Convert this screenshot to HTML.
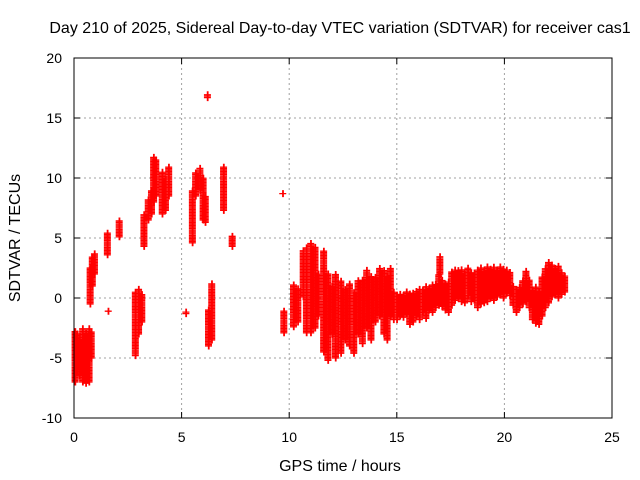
<!DOCTYPE html>
<html><head><meta charset="utf-8"><style>
body{margin:0;background:#fff;}
svg{display:block;font-family:"Liberation Sans",sans-serif;}
</style></head><body>
<svg id="c" width="640" height="480"></svg>
<script>
const xTicks=[0,5,10,15,20,25];
const yTicks=[-10,-5,0,5,10,15,20];
// clusters: [time hours, low value, high value]
const clusters=[
[0.05,-7,-2.7],[0.15,-6,-3],[0.25,-6.5,-3.5],[0.4,-7,-2.5],[0.55,-7.1,-3],[0.7,-7,-2.5],[0.8,-5,-2.8],
[0.75,-0.5,2.5],[0.85,1,3.5],[0.95,2,3.7],[1.55,3.6,5.5],[1.59,-1.1,-1.1],[2.1,5.1,6.5],
[2.85,-4.8,0.5],[3.0,-3,0.8],[3.15,-2,0.3],[3.25,4.3,7],[3.45,6.5,8.2],[3.6,7,9],
[3.7,8,11.8],[3.8,8.5,11.5],[4.1,7,10.5],[4.25,7.3,10],[4.4,8.5,11],
[5.2,-1.3,-1.1],[5.5,4.6,9],[5.65,8.5,10.5],[5.85,9,10.8],[6.0,6.5,10],[6.1,6.3,8.5],
[6.25,-4,-1],[6.4,-3.5,1.2],[6.2,16.7,17],[6.95,7.3,11],[7.35,4.3,5.2],
[9.7,8.7,8.7],[9.75,-2.9,-1],[10.2,-2.4,1.1],[10.4,-2,0.8],[10.65,0.1,4],[10.8,-2.9,4.2],
[11.0,-2.9,4.6],[11.2,-2.5,4.3],[11.35,-1.5,2],[11.6,-4.5,4],[11.8,-5.2,2],[12.0,-3,1],[12.15,-5,2],
[12.4,-4.6,1.5],[12.6,-3.5,0.8],[12.8,-4,1.2],[13.0,-4.6,0.5],[13.2,-3,1.5],
[13.4,-3.8,1.5],[13.6,-2.5,2.3],[13.8,-3.5,1.8],[14.0,-2,1.8],[14.2,-1.5,2.5],
[14.4,-3,2.3],[14.55,-3.5,1.8],[14.7,-1.5,2.5],[14.85,-1.8,0.5],[15.0,-1.8,0.3],[15.15,-1.5,0.4],
[15.3,-1.6,0.2],[15.45,-1.3,0.5],[15.6,-2.2,0.4],[15.75,-2.0,0.5],[15.9,-1.5,0.6],[16.05,-1.8,0.8],
[16.2,-1.2,0.7],[16.35,-1.7,1.0],[16.5,-1.0,0.8],[16.65,-1.2,1.1],[16.8,-0.8,1.2],[16.95,-0.6,2.0],
[17.0,2,3.5],[17.1,-0.7,1.5],[17.25,-1.0,1.2],[17.4,-1.2,1.4],[17.55,-0.6,2.2],[17.7,-0.2,2.4],
[17.85,0.0,2.3],[18.0,-0.3,2.4],[18.15,-0.4,2.0],[18.3,0.2,2.5],[18.45,-0.3,2.2],[18.6,-0.2,2.1],
[18.75,-0.8,2.4],[18.9,-0.5,2.5],[19.05,-0.4,2.3],[19.2,-0.3,2.6],[19.35,0.0,2.4],[19.5,-0.2,2.6],
[19.65,0.1,2.3],[19.8,0.3,2.6],[19.95,0.0,2.5],[20.1,0.4,2.4],[20.25,0.2,2.2],[20.4,-0.6,1.0],
[20.55,-1.2,0.8],[20.7,-0.8,0.9],[20.85,-0.5,1.5],[21.0,-0.3,2.3],[21.15,-0.8,1.5],[21.3,-1.8,0.6],
[21.45,-2.1,0.9],[21.6,-2.2,0.5],[21.75,-1.5,1.8],[21.9,-0.8,2.5],[22.05,-0.4,3.0],[22.2,0.1,2.8],
[22.35,0.3,2.5],[22.5,0.0,2.7],[22.65,0.3,2.2],[22.8,0.5,1.9]
];
const L=74,R=612,T=58,B=418,x0=0,x1=25,y0=-10,y1=20;
const sx=v=>L+(v-x0)/(x1-x0)*(R-L);
const sy=v=>B-(v-y0)/(y1-y0)*(B-T);
const svg=document.getElementById('c');
const NS='http://www.w3.org/2000/svg';
function mk(tag,a,parent){const e=document.createElementNS(NS,tag);for(const k in a)e.setAttribute(k,a[k]);(parent||svg).appendChild(e);return e;}
const grid=mk('g',{});


xTicks.forEach(t=>{
 if(t>x0&&t<x1)mk('line',{x1:sx(t),x2:sx(t),y1:T,y2:B,stroke:'#a0a0a0','stroke-dasharray':'2,3'},grid);
 mk('line',{x1:sx(t),x2:sx(t),y1:B,y2:B-6,stroke:'#000'});
 mk('line',{x1:sx(t),x2:sx(t),y1:T,y2:T+6,stroke:'#000'});
 const tx=mk('text',{x:sx(t),y:B+24,'text-anchor':'middle','font-size':'14'});
 tx.textContent=t;
 
 
});
yTicks.forEach(t=>{
 if(t>y0&&t<y1)mk('line',{x1:L,x2:R,y1:sy(t),y2:sy(t),stroke:'#a0a0a0','stroke-dasharray':'2,3'},grid);
 mk('line',{x1:L,x2:L+6,y1:sy(t),y2:sy(t),stroke:'#000'});
 mk('line',{x1:R,x2:R-6,y1:sy(t),y2:sy(t),stroke:'#000'});
 const tx=mk('text',{x:L-12,y:sy(t)+5,'text-anchor':'end','font-size':'14'});
 tx.textContent=t;
 
 
});
const pts=mk('g',{stroke:'#ff0000','stroke-width':'1.3'});


let d='';
clusters.forEach(c=>{
 const x=sx(c[0]);
 for(let v=c[1];v<=c[2]+1e-6;v+=0.12){const y=sy(v);d+=`M${x-3.5},${y}h7M${x},${y-3.5}v7M${x+0.5},${y-3.5}v7`;}
});
mk('path',{d:d,fill:'none'},pts);
const border=mk('rect',{x:L,y:T,width:R-L,height:B-T,fill:'none',stroke:'#000'});


const title=mk('text',{x:340,y:33,'text-anchor':'middle','font-size':'16'});
title.textContent='Day 210 of 2025, Sidereal Day-to-day VTEC variation (SDTVAR) for receiver cas1';


const xl=mk('text',{x:340,y:471,'text-anchor':'middle','font-size':'16'});
xl.textContent='GPS time / hours';


const yl=mk('text',{x:0,y:0,'text-anchor':'middle','font-size':'16'});
yl.setAttribute('transform','translate(20,238) rotate(-90)');
yl.textContent='SDTVAR / TECUs';


</script>
</body></html>
